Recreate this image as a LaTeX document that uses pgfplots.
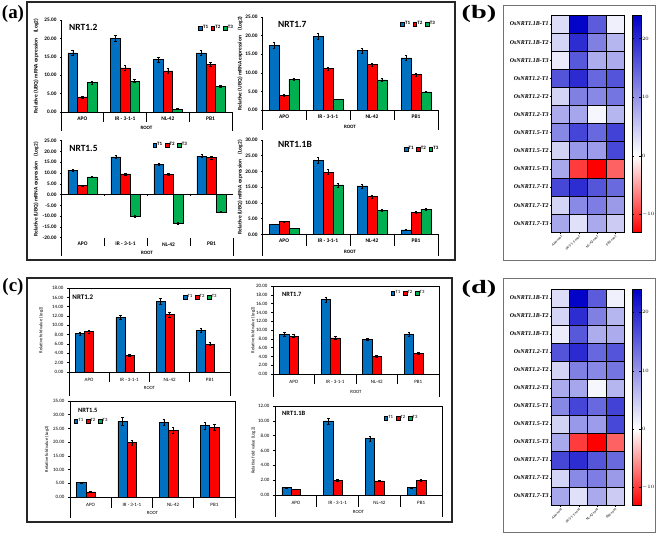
\documentclass[border=0pt]{standalone}
\usepackage{fontspec}
\setmainfont{Carlito}
\newfontfamily\tnr{Liberation Serif}
\usepackage{pgfplots}
\usepackage{pgfplotstable}
\pgfplotsset{compat=1.18}

\definecolor{cT1}{RGB}{0,112,192}
\definecolor{cT2}{RGB}{255,0,0}
\definecolor{cT3}{RGB}{0,176,80}

\newcommand\fs[1]{\fontsize{#1}{#1}\selectfont}

% heatmap: row 11 = top row (OsNRT1.1B-T1), row 0 = bottom row (OsNRT1.7-T3)
\pgfplotstableread{
x y c
0 11 3.2
1 11 23.6
2 11 15.4
3 11 1.4
0 10 4.0
1 10 19.8
2 10 12.0
3 10 7.0
0 9 1.9
1 9 15.7
2 9 7.7
3 9 7.9
0 8 16.1
1 8 20.0
2 8 14.2
3 8 16.1
0 7 4.1
1 7 12.0
2 7 11.2
3 7 13.0
0 6 8.0
1 6 8.4
2 6 0.8
3 6 7.0
0 5 11.3
1 5 17.5
2 5 14.1
3 5 17.8
0 4 4.2
1 4 9.6
2 4 9.3
3 4 17.2
0 3 8.2
1 3 -10.0
2 3 -13.1
3 3 -8.0
0 2 17.4
1 2 19.8
2 2 16.0
3 2 14.0
0 1 4.0
1 1 11.1
2 1 12.2
3 1 9.5
0 0 8.3
1 0 2.9
2 0 8.1
3 0 4.9
}\hmdata

\pgfplotsset{
  sq/.style={legend image code/.code={\draw[##1,draw=black,line width=0.4bp] (0bp,-1.8bp) rectangle (3.6bp,1.8bp);}},
  eb/.style={error bars/.cd, y dir=both, y explicit, error bar style={black,line width=0.5bp}, error mark options={rotate=90,mark size=1.3bp,black,line width=0.5bp}},
  b1/.style={fill=cT1, draw=black, line width=0.5bp, bar shift=-0.225, sq, eb},
  b2/.style={fill=cT2, draw=black, line width=0.5bp, bar shift=0, sq, eb},
  b3/.style={fill=cT3, draw=black, line width=0.5bp, bar shift=0.225, sq, eb},
  common/.style={scale only axis, ybar, bar width=0.225, xmin=-0.5, xmax=3.5, clip=false,
    xtick={0,1,2,3}, xticklabels={APO,IR - 3-1-1,NL-42,PB1},
    xtick style={draw=none},
    tick align=outside, major tick length=2bp,
    ytick style={black,line width=0.5bp},
    yticklabel style={/pgf/number format/fixed, /pgf/number format/fixed zerofill, /pgf/number format/precision=2, /pgf/number format/assume math mode=true},
    ylabel style={anchor=center},
    legend cell align=left,
  },
  apl/.style={common, axis x line=bottom, axis y line=left, axis line style={-,black,line width=0.8bp},
    xticklabel style={font=\fs{5.5}\bfseries, anchor=center, yshift=-5.5bp},
    yticklabel style={font=\fs{5.3}\bfseries},
    ylabel={Relative (UBQ) mRNA expression\quad(Log2)}, ylabel style={font=\fs{5.5}\bfseries},
    ytick distance=5,
    legend style={draw=none, fill=none, anchor=center, font=\fs{5}\bfseries, legend columns=3, inner sep=0pt, nodes={inner sep=0.6bp}, /tikz/every even column/.append style={column sep=2.2bp}},
  },
  cpl/.style={common, ymin=0, axis line style={black,line width=0.8bp}, ytick pos=left,
    xticklabel style={font=\fs{5}, anchor=center, yshift=-6bp},
    yticklabel style={font=\fs{5}},
    ylabel={Relative fold value (Log2)}, ylabel style={font=\fs{4.6}},
    legend style={draw=none, fill=none, anchor=center, font=\fs{4.8}, legend columns=3, inner sep=0pt, nodes={inner sep=0.6bp}, /tikz/every even column/.append style={column sep=2.2bp}},
  },
  hm/.style={scale only axis,
    xmin=-0.5, xmax=3.5, ymin=-0.5, ymax=11.5,
    xtick={0,1,2,3}, xticklabels={Apo-root,IR-3-1-1-root,NL-42-root,PB1-root},
    xticklabel style={rotate=45, anchor=north east, font=\fs{3.6}, inner sep=0.6bp},
    ytick={0,...,11},
    yticklabels={OsNRT1.7-T3,OsNRT1.7-T2,OsNRT1.7-T1,OsNRT1.5-T3,OsNRT1.5-T2,OsNRT1.5-T1,OsNRT1.2-T3,OsNRT1.2-T2,OsNRT1.2-T1,OsNRT1.1B-T3,OsNRT1.1B-T2,OsNRT1.1B-T1},
    yticklabel style={font=\tnr\bfseries\itshape\fs{6}, inner sep=1bp},
    xtick pos=left, ytick pos=left,
    tick align=outside, major tick length=2bp, tick style={black,line width=0.5bp},
    axis on top, axis line style={black,line width=0.8bp},
    colormap={bwr}{rgb255(0cm)=(255,0,0) rgb255(13cm)=(255,255,255) rgb255(37cm)=(0,0,200)},
    point meta min=-13, point meta max=24,
    colorbar,
    colorbar style={scale only axis, at={(parent axis.north east)}, anchor=north west, width=8.3bp,
      ytick={-10,0,10,20}, yticklabel style={font=\fs{3.6}, inner sep=1bp},
      major tick length=1.5bp, tick style={black,line width=0.4bp}, axis line style={black,line width=0.6bp}},
  },
  hmplot/.style={scatter, only marks, mark=square*, mark size=9.04bp, point meta=explicit,
    mark options={line width=0.8bp},
    scatter/use mapped color={draw=black, fill=mapped color}},
}

\newcommand\brk[4]{%
 \draw[black,line width=0.8bp] (rel axis cs:0,0) -- ++(0bp,-#2bp);
 \draw[black,line width=0.8bp] (rel axis cs:1,0) -- ++(0bp,-#2bp);
 \draw[black,line width=0.8bp] (rel axis cs:0.25,0) -- ++(0bp,-#1bp);
 \draw[black,line width=0.8bp] (rel axis cs:0.5,0) -- ++(0bp,-#1bp);
 \draw[black,line width=0.8bp] (rel axis cs:0.75,0) -- ++(0bp,-#1bp);
 \node[font=#4, inner sep=0pt, yshift=-#3bp] at (rel axis cs:0.5,0) {ROOT};
}

\begin{document}
\begin{tikzpicture}
\path[use as bounding box] (0bp,0bp) rectangle (657bp,-535bp);
\fill[white] (0bp,0bp) rectangle (657bp,-535bp);

% ---------- (a) ----------
\begin{axis}[apl, at={(61bp,-112bp)}, anchor=south west, width=171bp, height=92bp, ymin=0, ymax=25,
  ylabel style={at={(axis description cs:-0.146,0.5)}},
  legend style={at={(axis description cs:0.906,0.914)}}]
\addplot[b1] coordinates {(0,16.1) +- (0,0.8) (1,20.0) +- (0,0.9) (2,14.2) +- (0,0.7) (3,16.1) +- (0,0.7)};
\addplot[b2] coordinates {(0,4.1) +- (0,0.3) (1,12.0) +- (0,0.6) (2,11.2) +- (0,0.6) (3,13.0) +- (0,0.6)};
\addplot[b3] coordinates {(0,8.0) +- (0,0.4) (1,8.4) +- (0,0.4) (2,0.8) +- (0,0.1) (3,7.0) +- (0,0.3)};
\legend{T1,T2,T3}
\node[anchor=west, font=\fs{9.5}\bfseries, inner sep=0pt] at (rel axis cs:0.047,0.924) {NRT1.2};
\brk{10}{19}{15.5}{\fs{5}\bfseries}
\end{axis}

\begin{axis}[apl, at={(262bp,-110bp)}, anchor=south west, width=176bp, height=93bp, ymin=0, ymax=25,
  ylabel style={at={(axis description cs:-0.125,0.5)}},
  legend style={at={(axis description cs:0.886,0.924)}}]
\addplot[b1] coordinates {(0,17.4) +- (0,0.8) (1,19.8) +- (0,0.8) (2,16.0) +- (0,0.7) (3,14.0) +- (0,0.6)};
\addplot[b2] coordinates {(0,4.0) +- (0,0.2) (1,11.1) +- (0,0.5) (2,12.2) +- (0,0.5) (3,9.5) +- (0,0.4)};
\addplot[b3] coordinates {(0,8.3) +- (0,0.3) (1,2.9) +- (0,0.1) (2,8.1) +- (0,0.4) (3,4.9) +- (0,0.1)};
\legend{T1,T2,T3}
\node[anchor=west, font=\fs{9.5}\bfseries, inner sep=0pt] at (rel axis cs:0.091,0.925) {NRT1.7};
\brk{10}{20}{16.5}{\fs{5}\bfseries}
\end{axis}

\begin{axis}[apl, at={(61bp,-237.7bp)}, anchor=south west, width=172bp, height=97bp, ymin=-20, ymax=25,
  x axis line style={draw=none},
  ylabel style={at={(axis description cs:-0.145,0.5)}},
  legend style={at={(axis description cs:0.634,0.956)}}]
\addplot[b1] coordinates {(0,11.3) +- (0,0.4) (1,17.5) +- (0,0.7) (2,14.1) +- (0,0.5) (3,17.8) +- (0,0.7)};
\addplot[b2] coordinates {(0,4.2) +- (0,0.2) (1,9.6) +- (0,0.4) (2,9.3) +- (0,0.4) (3,17.2) +- (0,0.7)};
\addplot[b3] coordinates {(0,8.2) +- (0,0.3) (1,-10.0) +- (0,0.4) (2,-13.1) +- (0,0.5) (3,-8.0) +- (0,0.3)};
\legend{T1,T2,T3}
\draw[black,line width=0.8bp] (axis cs:-0.5,0) -- (axis cs:3.5,0);
\draw[black,line width=0.6bp] (axis cs:0.5,0) -- ++(0bp,-1.5bp);
\draw[black,line width=0.6bp] (axis cs:1.5,0) -- ++(0bp,-1.5bp);
\draw[black,line width=0.6bp] (axis cs:2.5,0) -- ++(0bp,-1.5bp);
\node[anchor=west, font=\fs{9.5}\bfseries, inner sep=0pt] at (rel axis cs:0.047,0.925) {NRT1.5};
\brk{8}{18}{15}{\fs{5}\bfseries}
\end{axis}

\begin{axis}[apl, at={(262bp,-234.3bp)}, anchor=south west, width=176bp, height=94.3bp, ymin=0, ymax=30,
  ylabel style={at={(axis description cs:-0.125,0.5)}},
  legend style={at={(axis description cs:0.906,0.905)}}]
\addplot[b1] coordinates {(0,3.2) +- (0,0.1) (1,23.6) +- (0,0.9) (2,15.4) +- (0,0.6) (3,1.4) +- (0,0.1)};
\addplot[b2] coordinates {(0,4.0) +- (0,0.2) (1,19.8) +- (0,0.8) (2,12.0) +- (0,0.5) (3,7.0) +- (0,0.3)};
\addplot[b3] coordinates {(0,1.9) +- (0,0.1) (1,15.7) +- (0,0.6) (2,7.7) +- (0,0.3) (3,7.9) +- (0,0.3)};
\legend{T1,T2,T3}
\node[anchor=west, font=\fs{9.5}\bfseries, inner sep=0pt] at (rel axis cs:0.091,0.958) {NRT1.1B};
\brk{12}{22}{17.5}{\fs{5}\bfseries}
\end{axis}

% ---------- (c) ----------
\begin{axis}[cpl, at={(69bp,-372bp)}, anchor=south west, width=161bp, height=84bp, ymax=18, ytick distance=2,
  ylabel style={at={(axis description cs:-0.174,0.5)}},
  legend style={at={(axis description cs:0.814,0.893)}}]
\addplot[b1] coordinates {(0,8.2) +- (0,0.4) (1,11.7) +- (0,0.5) (2,15.2) +- (0,0.7) (3,9.0) +- (0,0.4)};
\addplot[b2] coordinates {(0,8.65) +- (0,0.4) (1,3.6) +- (0,0.15) (2,12.3) +- (0,0.5) (3,6.0) +- (0,0.3)};
\addlegendimage{fill=cT3, draw=black, sq}
\legend{T1,T2,T3}
\node[anchor=west, font=\fs{7}\bfseries, inner sep=0pt] at (rel axis cs:0.02,0.89) {NRT1.2};
\brk{10}{24}{16}{\fs{4.8}}
\end{axis}

\begin{axis}[cpl, at={(273bp,-374bp)}, anchor=south west, width=166bp, height=88bp, ymax=20, ytick distance=2,
  ylabel style={at={(axis description cs:-0.12,0.5)}},
  legend style={at={(axis description cs:0.813,0.92)}}]
\addplot[b1] coordinates {(0,9.0) +- (0,0.4) (1,16.9) +- (0,0.6) (2,7.9) +- (0,0.3) (3,9.0) +- (0,0.4)};
\addplot[b2] coordinates {(0,8.6) +- (0,0.35) (1,8.2) +- (0,0.3) (2,4.0) +- (0,0.15) (3,4.7) +- (0,0.15)};
\addlegendimage{fill=cT3, draw=black, sq}
\legend{T1,T2,T3}
\node[anchor=west, font=\fs{6.5}\bfseries, inner sep=0pt] at (rel axis cs:0.054,0.91) {NRT1.7};
\brk{10}{23}{18}{\fs{4.8}}
\end{axis}

\begin{axis}[cpl, at={(70bp,-497bp)}, anchor=south west, width=165bp, height=96bp, ymax=35, ytick distance=5,
  ylabel style={at={(axis description cs:-0.14,0.5)}},
  legend style={at={(axis description cs:0.127,0.79)}}]
\addplot[b1] coordinates {(0,5.3) +- (0,0.2) (1,27.6) +- (0,1.3) (2,27.3) +- (0,1.2) (3,26.0) +- (0,1.2)};
\addplot[b2] coordinates {(0,1.9) +- (0,0.1) (1,19.8) +- (0,0.9) (2,24.4) +- (0,1.0) (3,25.4) +- (0,1.1)};
\addlegendimage{fill=cT3, draw=black, sq}
\legend{T1,T2,T3}
\node[anchor=west, font=\fs{6.5}\bfseries, inner sep=0pt] at (rel axis cs:0.048,0.906) {NRT1.5};
\brk{11}{21}{16}{\fs{4.8}}
\end{axis}

\begin{axis}[cpl, at={(275bp,-495bp)}, anchor=south west, width=167bp, height=89bp, ymax=12, ytick distance=2,
  ylabel style={at={(axis description cs:-0.13,0.5)}},
  legend style={at={(axis description cs:0.754,0.865)}}]
\addplot[b1] coordinates {(0,1.0) +- (0,0.03) (1,10.0) +- (0,0.4) (2,7.6) +- (0,0.3) (3,1.0) +- (0,0.03)};
\addplot[b2] coordinates {(0,0.8) +- (0,0.03) (1,2.0) +- (0,0.08) (2,1.9) +- (0,0.06) (3,2.0) +- (0,0.08)};
\addlegendimage{fill=cT3, draw=black, sq}
\legend{T1,T2,T3}
\node[anchor=west, font=\fs{6.5}\bfseries, inner sep=0pt] at (rel axis cs:0.042,0.92) {NRT1.1B};
\brk{12}{22}{17}{\fs{4.8}}
\end{axis}

% ---------- heatmaps ----------
\begin{axis}[hm, at={(551.7bp,-232.3bp)}, anchor=south west, width=72.3bp, height=217.3bp]
\addplot[hmplot] table[meta=c] {\hmdata};
\end{axis}

\begin{axis}[hm, at={(551.7bp,-505bp)}, anchor=south west, width=72.3bp, height=216bp]
\addplot[hmplot] table[meta=c] {\hmdata};
\end{axis}

% ---------- frames and panel labels ----------
\draw[black!85, line width=1.3bp] (27bp,-2bp) rectangle (455bp,-260bp);
\draw[black!55, line width=0.6bp] (503bp,-5bp) rectangle (655bp,-260bp);
\draw[black!85, line width=1.3bp] (27bp,-278bp) rectangle (452bp,-522bp);
\draw[black!55, line width=0.6bp] (503bp,-278bp) rectangle (655bp,-532bp);

\node[font=\tnr\bfseries\fs{19}, inner sep=0pt] at (13bp,-14bp) {(a)};
\node[font=\tnr\bfseries\fs{19}, inner sep=0pt, xscale=1.5] at (479bp,-14bp) {(b)};
\node[font=\tnr\bfseries\fs{19}, inner sep=0pt] at (13bp,-287bp) {(c)};
\node[font=\tnr\bfseries\fs{19}, inner sep=0pt, xscale=1.5] at (479bp,-289bp) {(d)};
\end{tikzpicture}
\end{document}
